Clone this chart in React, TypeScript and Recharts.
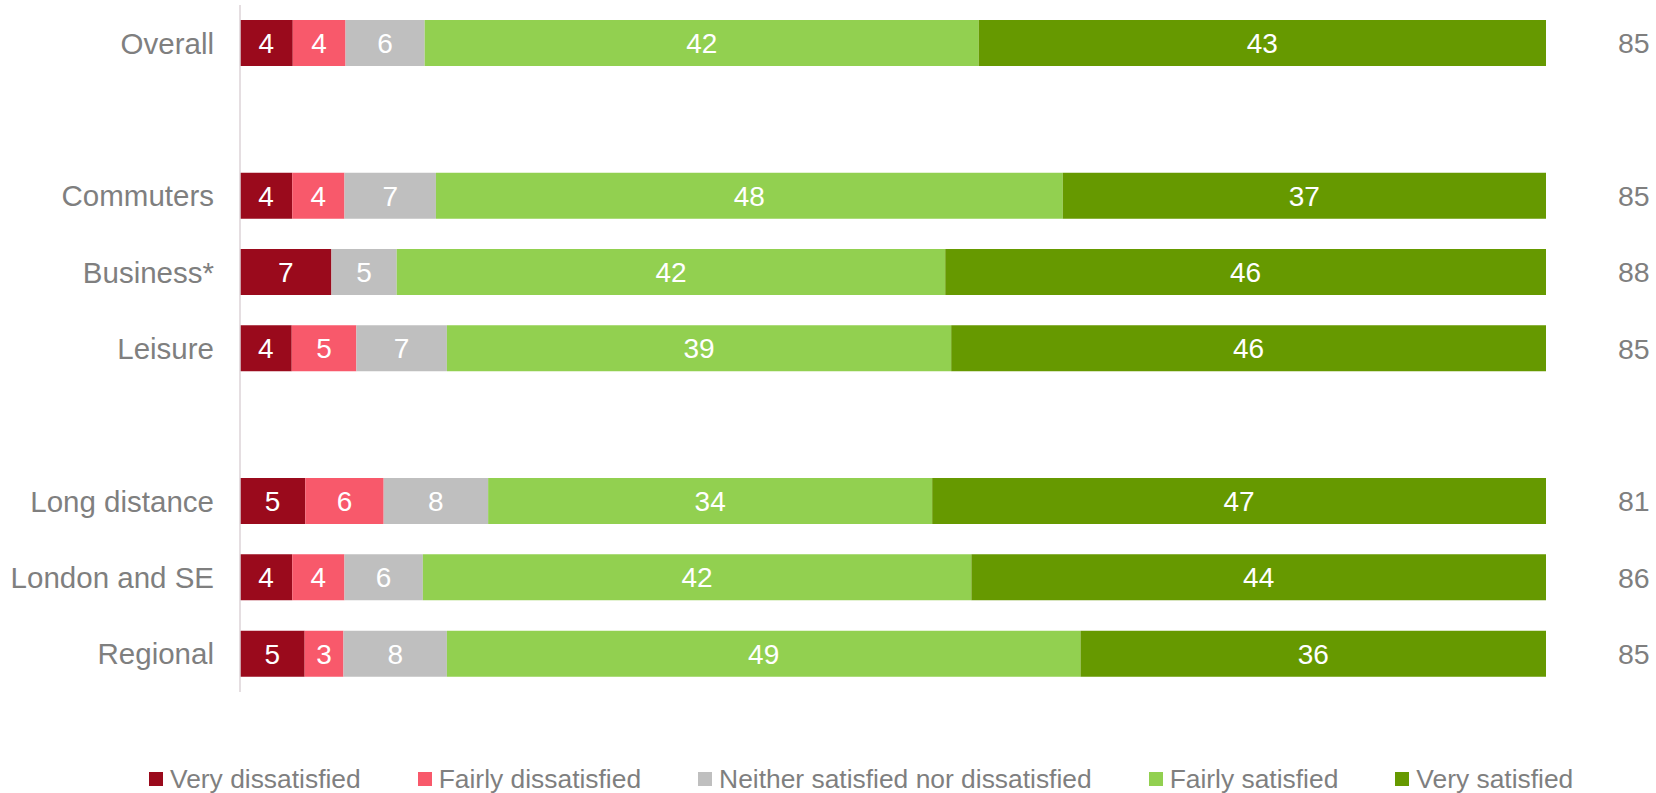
import React from 'react';
import { BarChart, Bar, XAxis, YAxis, LabelList, Legend } from 'recharts';

const categories = ['Overall', ' ', 'Commuters', 'Business*', 'Leisure', '  ', 'Long distance', 'London and SE', 'Regional'];
const veryDissatisfied = [4, 0, 4, 7, 4, 0, 5, 4, 5];
const fairlyDissatisfied = [4, 0, 4, 0, 5, 0, 6, 4, 3];
const neither = [6, 0, 7, 5, 7, 0, 8, 6, 8];
const fairlySatisfied = [42, 0, 48, 42, 39, 0, 34, 42, 49];
const verySatisfied = [43, 0, 37, 46, 46, 0, 47, 44, 36];
const totalSatisfied = ['85', '', '85', '88', '85', '', '81', '86', '85'];

const seriesNames = ['Very dissatisfied', 'Fairly dissatisfied', 'Neither satisfied nor dissatisfied', 'Fairly satisfied', 'Very satisfied'];
const seriesKeys = ['vd', 'fd', 'ne', 'fs', 'vs'];
const seriesColors = ['#9A0A1C', '#F8596B', '#BFBFBF', '#92D050', '#669900'];

const data = categories.map((name, i) => ({
  name,
  vd: veryDissatisfied[i],
  fd: fairlyDissatisfied[i],
  ne: neither[i],
  fs: fairlySatisfied[i],
  vs: verySatisfied[i],
  total: totalSatisfied[i],
}));

const textColor = '#7F7F7F';

const CustomLegend = () => (
  <div
    style={{
      display: 'flex',
      justifyContent: 'flex-start',
      alignItems: 'center',
      fontSize: 26.4,
      lineHeight: '26px',
      color: textColor,
      whiteSpace: 'nowrap',
    }}
  >
    {seriesNames.map((n, i) => (
      <div key={n} style={{ display: 'flex', alignItems: 'center', marginLeft: i === 0 ? 0 : 57 }}>
        <span style={{ display: 'inline-block', width: 14, height: 14, background: seriesColors[i], marginRight: 7 }} />
        <span>{n}</span>
      </div>
    ))}
  </div>
);

export default function App() {
  return (
    <div style={{ position: 'absolute', left: 0, top: 0, fontFamily: '"Liberation Sans", Arial, sans-serif' }}>
      <BarChart
        width={1656}
        height={793}
        data={data}
        layout="vertical"
        stackOffset="expand"
        barSize={46}
        margin={{ top: 5, right: 0, left: 0, bottom: 101 }}
      >
        <XAxis type="number" hide domain={[0, 1]} />
        <YAxis
          yAxisId="left"
          type="category"
          dataKey="name"
          width={240}
          tickLine={false}
          tickSize={0}
          tickMargin={26}
          axisLine={{ stroke: '#DCD3D7', strokeWidth: 1.5 }}
          tick={{ fill: textColor, fontSize: 29.5 }}
          interval={0}
        />
        <YAxis
          yAxisId="right"
          orientation="right"
          type="category"
          dataKey="name"
          width={110}
          tickLine={false}
          tickSize={0}
          tickMargin={72}
          axisLine={false}
          tick={{ fill: textColor, fontSize: 28.5 }}
          interval={0}
          tickFormatter={(v: string) => {
            const idx = categories.indexOf(v);
            return idx >= 0 ? totalSatisfied[idx] : '';
          }}
        />
        {seriesKeys.map((k, i) => (
          <Bar
            key={k}
            yAxisId="left"
            dataKey={k}
            name={seriesNames[i]}
            stackId="a"
            fill={seriesColors[i]}
            isAnimationActive={false}
          >
            <LabelList
              dataKey={k}
              position="center"
              fill="#FFFFFF"
              fontSize={28}
              formatter={(v: any) => (v ? v : '')}
            />
          </Bar>
        ))}
        <Legend
          verticalAlign="middle"
          align="center"
          layout="horizontal"
          content={<CustomLegend />}
          wrapperStyle={{ top: 766, left: 149, width: 1500, height: 28 }}
        />
      </BarChart>
    </div>
  );
}
